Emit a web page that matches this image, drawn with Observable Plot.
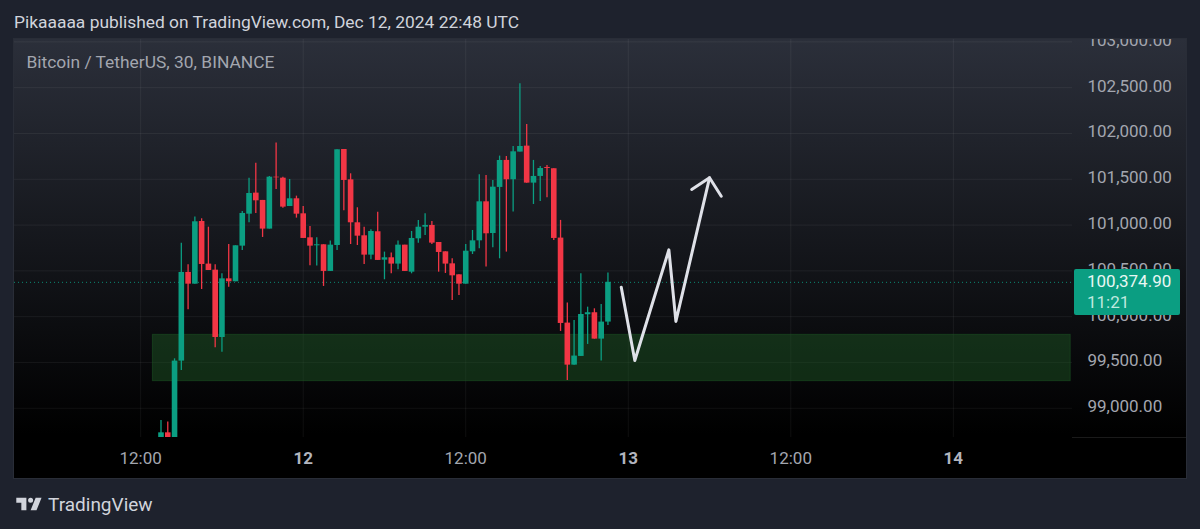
<!DOCTYPE html>
<html><head><meta charset="utf-8">
<script src="https://cdn.jsdelivr.net/npm/d3@7"></script>
<script src="https://cdn.jsdelivr.net/npm/@observablehq/plot@0.6"></script>
<style>
html,body{margin:0;padding:0;background:#1e222d;width:1200px;height:529px;overflow:hidden;font-family:Roboto,sans-serif}
#page{position:relative;width:1200px;height:529px}
#head{height:39px;line-height:45px;padding-left:14px;color:#d1d4dc;font-size:17.4px;white-space:nowrap}
#foot{position:absolute;left:14px;top:494px;height:20px;display:flex;align-items:center;color:#d1d4dc;font-size:19px}
#foot svg{margin-right:5px}
#tag{position:absolute;left:1074px;top:269px;width:106px;height:46px;background:#0b9e82;border-radius:2px;color:#e8f7f3;font-size:17px;line-height:21px;box-sizing:border-box;padding:2px 0 0 13px}
#tag div+div{color:#bfe9df}
#sep{position:absolute;left:1072px;top:437px;width:114px;height:1px;background:rgba(255,255,255,.1)}
#chart svg{margin-left:14px;box-shadow:0 0 0 1px rgba(255,255,255,.05)}
</style></head><body>
<div id="page">
<div id="head">Pikaaaaa published on TradingView.com, Dec 12, 2024 22:48 UTC</div>
<div id="chart"></div>
<div id="sep"></div>
<div id="tag"><div>100,374.90</div><div>11:21</div></div>
<div id="foot"><svg width="29" height="16" viewBox="0 4 33 19"><path fill="#d1d4dc" d="M14 6H2v6h6v9h6V6zm12 15h-7l6-15h7l-6 15zm-7-9a3 3 0 1 0 0-6 3 3 0 0 0 0 6z"/></svg><span>TradingView</span></div>
</div>
<script>
const opens =[98674,98732,98674,99515,100483,100355,101039,100574,100508,99773,100413,100381,100770,101119,101349,101269,100956,101523,101512,101203,101287,101123,100861,100774,100785,100494,100777,101825,101494,101025,100883,100672,100927,100617,100643,100574,100781,100486,100850,100977,100996,100810,100708,100577,100457,100355,100708,100828,101254,100908,101411,101706,101495,101797,101862,101458,101531,101629,101615,100858,99930,99471,99566,100021,100043,99755,99941];
const closes=[98732,98674,99515,100483,100355,101036,100570,100504,99773,100413,100381,100774,101127,101345,101265,100956,101523,101516,101196,101287,101119,100854,100770,100785,100494,100781,101822,101487,101025,100879,100672,100930,100614,100643,100574,100781,100494,100854,100977,100996,100803,100701,100574,100446,100355,100715,100828,101254,100905,101414,101705,101495,101800,101858,101458,101531,101618,101618,100854,99926,99471,99570,100024,100043,99755,99941,100375];
const highs =[98867,98849,99540,100803,100566,101087,101069,100977,100566,100468,100788,100774,101149,101512,101676,101269,101531,101895,101523,101498,101316,101203,100985,100861,100785,100825,101822,101825,101560,101189,100977,100948,101141,100705,100694,100825,100781,100930,101050,101123,101039,100810,100708,100632,100457,100788,100941,101549,101542,101487,101753,101749,101858,102543,102099,101706,101640,101651,101615,101051,100148,99959,100468,100104,100086,100134,100476];
const lows  =[98674,98674,98674,99413,100075,100355,100297,100504,99660,99613,100322,100381,100723,101025,101127,100865,100956,101389,101185,101203,101076,100854,100555,100552,100330,100494,100723,101156,100788,100777,100570,100621,100614,100403,100468,100512,100494,100468,100803,100887,100788,100486,100472,100177,100231,100355,100679,100741,100541,100752,100632,100705,101142,101797,101458,101225,101258,101298,100832,99839,99304,99471,99566,99697,99755,99515,99904];
const firstCandle="2024-12-11T13:30Z";
const lastPrice=100374.90;
const priceTicks=[99000,99500,100000,100500,101000,101500,102000,102500,103000];
const hourTicks=["2024-12-11T12:00Z","2024-12-12T12:00Z","2024-12-13T12:00Z"].map(d=>new Date(d));
const dayTicks=["2024-12-12T00:00Z","2024-12-13T00:00Z","2024-12-14T00:00Z"].map(d=>new Date(d));
const zoneTime=["2024-12-11T12:54Z","2024-12-14T08:40Z"].map(d=>new Date(d));
const zonePrice=[99802,99296];
const arrowTimes=["2024-12-12T23:29Z","2024-12-13T00:29Z","2024-12-13T03:00Z","2024-12-13T03:31Z","2024-12-13T06:00Z"].map(d=>new Date(d));
const arrowPrices=[100322,99522,100730,99948,101516];
const headTimes=["2024-12-13T04:41Z","2024-12-13T06:00Z","2024-12-13T06:52Z"].map(d=>new Date(d));
const headPrices=[101389,101516,101315];
const xDomain=["2024-12-11T02:41Z","2024-12-14T08:48Z"].map(d=>new Date(d));
const yDomain=[98681,103026];

const GREEN="#0b9e82",RED="#f23645",GRID="#ffffff",TXT="#a3a6af";
const t0=+new Date(firstCandle);
const candles=opens.map((o,i)=>({t:new Date(t0+i*18e5),o,c:closes[i],h:highs[i],l:lows[i],col:closes[i]>=o?GREEN:RED}));
const zone=[{x1:zoneTime[0],x2:zoneTime[1],y1:zonePrice[0],y2:zonePrice[1]}];
const arrow=arrowTimes.map((t,i)=>({t,p:arrowPrices[i]}));
const head=headTimes.map((t,i)=>({t,p:headPrices[i]}));

const chart=Plot.plot({
  width:1172,height:439,marginLeft:0,marginRight:114,marginTop:0,marginBottom:41,
  style:{background:"linear-gradient(#2b2f3a 0%,#000 90%)",overflow:"hidden",fontFamily:"Roboto"},
  x:{type:"utc",domain:xDomain},
  y:{domain:yDomain},
  marks:[
    Plot.gridX(dayTicks.concat(hourTicks),{stroke:GRID,strokeOpacity:.06}),
    Plot.gridY(priceTicks,{stroke:GRID,strokeOpacity:.06}),
    Plot.rect(zone,{x1:"x1",x2:"x2",y1:"y1",y2:"y2",fill:"#1e5a26",fillOpacity:.45,stroke:"#1e5a26",strokeOpacity:.5}),
    Plot.ruleY([lastPrice],{stroke:GREEN,strokeDasharray:"1,3",strokeOpacity:.85}),
    Plot.ruleX(candles,{x:"t",y1:"l",y2:"h",stroke:"col",strokeWidth:1.3,clip:true}),
    Plot.ruleX(candles,{x:"t",y1:"o",y2:"c",stroke:"col",strokeWidth:5.6,clip:true}),
    Plot.line(arrow,{x:"t",y:"p",stroke:"#dfe1e8",strokeWidth:3,curve:"linear"}),
    Plot.line(head,{x:"t",y:"p",stroke:"#dfe1e8",strokeWidth:3,curve:"linear"}),
    Plot.axisY(priceTicks,{anchor:"right",label:null,tickSize:0,tickPadding:15,dy:-1.5,fontSize:17,fill:TXT,tickFormat:d=>d3.format(",.2f")(d)}),
    Plot.axisX(hourTicks,{label:null,tickSize:0,tickPadding:14,fontSize:17,fill:TXT,tickFormat:()=>"12:00"}),
    Plot.axisX(dayTicks,{label:null,tickSize:0,tickPadding:14,fontSize:17,fontWeight:"bold",fill:"#b2b5be",tickFormat:d=>String(d.getUTCDate())}),
    Plot.text(["Bitcoin / TetherUS, 30, BINANCE"],{frameAnchor:"top-left",dx:12,dy:16,fontSize:17.4,fill:TXT})
  ]
});
document.getElementById("chart").appendChild(chart);
</script></body></html>
